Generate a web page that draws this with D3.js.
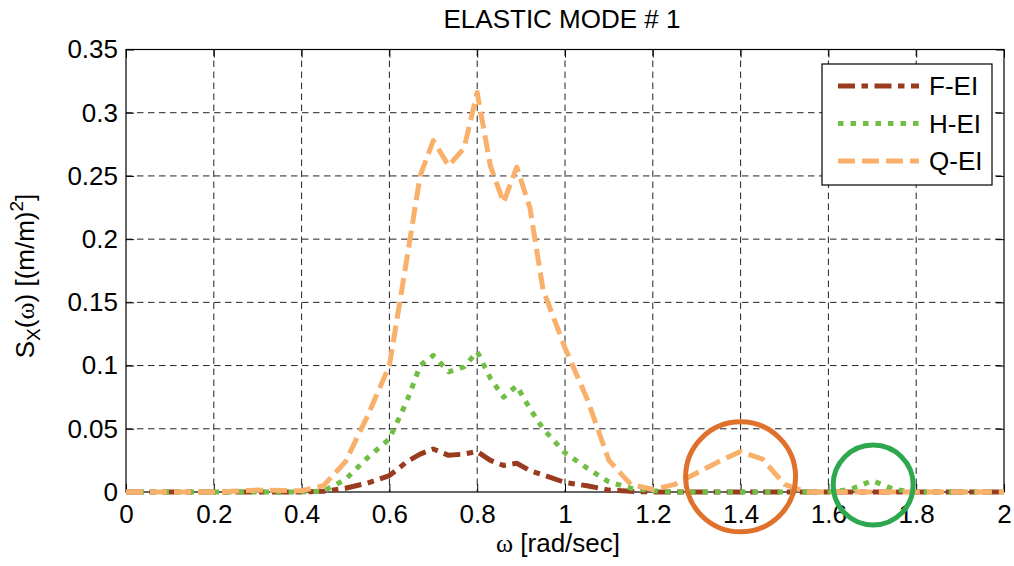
<!DOCTYPE html>
<html>
<head>
<meta charset="utf-8">
<script src="https://cdn.jsdelivr.net/npm/d3@7"></script>
<style>
  html, body { margin: 0; padding: 0; background: #fff; }
  svg text { font-family: "Liberation Sans", Arial, sans-serif; fill: #000; }
</style>
</head>
<body>
<svg id="chart" width="1014" height="566"></svg>
<script>
// Frequency grid (rad/sec)
const omega = [0, 0.1, 0.2, 0.3, 0.4, 0.45, 0.5, 0.55, 0.6, 0.64, 0.67, 0.7, 0.735, 0.77, 0.8,
  0.83, 0.86, 0.89, 0.92, 0.95, 1.0, 1.05, 1.1, 1.15, 1.2, 1.25, 1.3, 1.35, 1.4, 1.45, 1.5,
  1.55, 1.6, 1.65, 1.7, 1.75, 1.8, 1.9, 2.0];

// Response spectra S_X(omega) for the three sea states
const fEI = [0, 0, 0, 0, 0, 0.0005, 0.003, 0.007, 0.013, 0.024, 0.030, 0.034, 0.029, 0.030, 0.032,
  0.025, 0.021, 0.0227, 0.017, 0.0135, 0.0075, 0.005, 0.0015, 0.0005, 0, 0, 0, 0, 0, 0, 0,
  0, 0, 0, 0, 0, 0, 0, 0];
const hEI = [0, 0, 0, 0, 0, 0.0008, 0.010, 0.027, 0.042, 0.072, 0.100, 0.108, 0.095, 0.099, 0.111,
  0.090, 0.075, 0.084, 0.066, 0.050, 0.031, 0.019, 0.008, 0.003, 0.001, 0, 0, 0, 0, 0, 0,
  0, 0, 0.002, 0.009, 0.002, 0, 0, 0];
const qEI = [0, 0, 0, 0.0015, 0.001, 0.005, 0.024, 0.060, 0.100, 0.185, 0.250, 0.278, 0.258, 0.272, 0.316,
  0.258, 0.229, 0.257, 0.225, 0.160, 0.114, 0.074, 0.025, 0.006, 0.002, 0.006, 0.015, 0.024, 0.032, 0.026, 0.006,
  0, 0, 0, 0, 0, 0, 0, 0];

const seriesNames = ["F-EI", "H-EI", "Q-EI"];
const xTicks = [0, 0.2, 0.4, 0.6, 0.8, 1, 1.2, 1.4, 1.6, 1.8, 2];
const yTicks = [0, 0.05, 0.1, 0.15, 0.2, 0.25, 0.3, 0.35];

// Highlight rings around the secondary peaks: [omega, S]
const ringCenters = [[1.4, 0.012], [1.702, 0.0055]];

const styles = [
  { color: "#993b1e", dash: "17,6.5,6.5,6.5" },
  { color: "#70bf44", dash: "5.5,7" },
  { color: "#f9b06b", dash: "17,7" }
];
const ringStyles = [{ color: "#e0712c", r: 55 }, { color: "#2ea84f", r: 40 }];

const FS = 26;
const svg = d3.select("#chart");
const margin = { left: 126, right: 1014 - 1004, top: 49.5, bottom: 566 - 492 };
const W = 1014, H = 566;

const x = d3.scaleLinear().domain([0, 2]).range([margin.left, W - margin.right]);
const y = d3.scaleLinear().domain([0, 0.35]).range([H - margin.bottom, margin.top]);

const fmt = d => String(+d.toFixed(2));

// Grid
const grid = svg.append("g").attr("stroke", "#222").attr("stroke-width", 1)
  .attr("stroke-dasharray", "6.5,4.5");
grid.selectAll(".gx").data(xTicks.slice(1, -1)).join("line")
  .attr("x1", d => x(d)).attr("x2", d => x(d))
  .attr("y1", y(0.35)).attr("y2", y(0));
grid.selectAll(".gy").data(yTicks.slice(1, -1)).join("line")
  .attr("x1", x(0)).attr("x2", x(2))
  .attr("y1", d => y(d)).attr("y2", d => y(d));

// Axes with inward ticks
const tickLen = 8;
const axB = svg.append("g").attr("transform", `translate(0,${y(0)})`)
  .call(d3.axisBottom(x).tickValues(xTicks).tickFormat(fmt).tickSizeInner(-tickLen).tickSizeOuter(0).tickPadding(13));
const axL = svg.append("g").attr("transform", `translate(${x(0)},0)`)
  .call(d3.axisLeft(y).tickValues(yTicks).tickFormat(fmt).tickSizeInner(-tickLen).tickSizeOuter(0).tickPadding(8));
const axT = svg.append("g").attr("transform", `translate(0,${y(0.35)})`)
  .call(d3.axisTop(x).tickValues(xTicks).tickFormat("").tickSizeInner(-tickLen).tickSizeOuter(0));
const axR = svg.append("g").attr("transform", `translate(${x(2)},0)`)
  .call(d3.axisRight(y).tickValues(yTicks).tickFormat("").tickSizeInner(-tickLen).tickSizeOuter(0));
[axB, axL, axT, axR].forEach(a => {
  a.select(".domain").remove();
  a.selectAll("line").attr("stroke", "#000");
  a.selectAll("text").attr("font-size", FS).attr("font-family", "Liberation Sans, Arial, sans-serif").attr("fill", "#000");
});

// Plot box
svg.append("rect").attr("x", x(0)).attr("y", y(0.35))
  .attr("width", x(2) - x(0)).attr("height", y(0) - y(0.35))
  .attr("fill", "none").attr("stroke", "#000").attr("stroke-width", 1.2);

// Series
const data = [fEI, hEI, qEI];
const line = d3.line().x((d, i) => x(omega[i])).y(d => y(d));
const plot = svg.append("g");
data.forEach((vals, k) => {
  plot.append("path").datum(vals)
    .attr("d", line)
    .attr("fill", "none")
    .attr("stroke", styles[k].color)
    .attr("stroke-width", 5)
    .attr("stroke-dasharray", styles[k].dash)
    .attr("stroke-linejoin", "round");
});

// Rings
svg.selectAll(".ring").data(ringCenters).join("circle")
  .attr("cx", d => x(d[0])).attr("cy", d => y(d[1]))
  .attr("r", (d, i) => ringStyles[i].r)
  .attr("fill", "none")
  .attr("stroke", (d, i) => ringStyles[i].color)
  .attr("stroke-width", 5);

// Legend
const lg = svg.append("g");
lg.append("rect").attr("x", 822).attr("y", 64).attr("width", 170).attr("height", 121)
  .attr("fill", "#fff").attr("stroke", "#000").attr("stroke-width", 1.2);
seriesNames.forEach((name, k) => {
  const cy = 86 + k * 37.5;
  lg.append("line").attr("x1", 838).attr("x2", 919).attr("y1", cy).attr("y2", cy)
    .attr("stroke", styles[k].color).attr("stroke-width", 5)
    .attr("stroke-dasharray", styles[k].dash);
  lg.append("text").attr("x", 929).attr("y", cy).attr("dy", "0.35em")
    .attr("font-size", FS).text(name);
});

// Title
svg.append("text").attr("x", 562).attr("y", 28).attr("text-anchor", "middle")
  .attr("font-size", FS).text("ELASTIC MODE # 1");

// X label
const xl = svg.append("text").attr("x", 558).attr("y", 552).attr("text-anchor", "middle")
  .attr("font-size", FS);
xl.append("tspan").attr("font-family", "Liberation Serif, Times New Roman, serif").text("\u03c9");
xl.append("tspan").text(" [rad/sec]");

// Y label
const yl = svg.append("text").attr("transform", "translate(34,276) rotate(-90)")
  .attr("text-anchor", "middle").attr("font-size", FS);
yl.append("tspan").text("S");
yl.append("tspan").attr("font-size", 19).attr("dy", 6).text("X");
yl.append("tspan").attr("dy", -6).text("(");
yl.append("tspan").attr("font-family", "Liberation Serif, Times New Roman, serif").text("\u03c9");
yl.append("tspan").text(") [(m/m)");
yl.append("tspan").attr("font-size", 19).attr("dy", -11).text("2");
yl.append("tspan").attr("dy", 11).text("]");
</script>
</body>
</html>
